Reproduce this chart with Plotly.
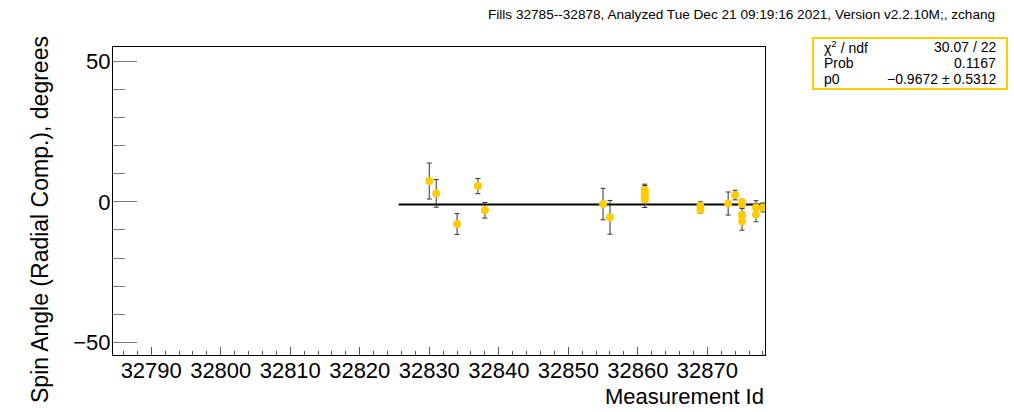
import plotly.graph_objects as go

# ---- data ----
meas_id = [32830, 32831, 32834, 32837, 32838, 32855, 32856,
           32861, 32861, 32861, 32861, 32861,
           32869, 32869, 32873, 32874,
           32875, 32875, 32875, 32875, 32877, 32877, 32878]
angle = [7.4, 3.0, -7.9, 5.6, -3.0, -0.8, -5.5,
         4.2, 3.4, 2.6, 1.6, 0.8,
         -1.5, -2.9, -0.6, 2.4,
         -0.2, -0.8, -4.7, -6.9, -2.0, -4.5, -2.0]
angle_err = [6.4, 4.9, 3.7, 2.7, 2.8, 5.6, 6.0,
             2.1, 2.4, 2.6, 2.4, 2.8,
             1.5, 1.2, 4.1, 1.7,
             1.1, 1.5, 2.5, 3.2, 2.4, 2.6, 1.6]

fit_p0 = -0.9672
fit_range = [32825.6, 32878.3]
x_range = [32784.5, 32878.3]
y_range = [-54.5, 55.1]

title_text = "Fills 32785--32878, Analyzed Tue Dec 21 09:19:16 2021, Version v2.2.10M;, zchang"
stats_labels = ["χ<sup>2</sup> / ndf", "Prob", "p0"]
stats_values = ["30.07 / 22", "0.1167", "−0.9672 ± 0.5312"]

# ---- layout geometry ----
W, H = 1014, 412
L, R, T, B = 113, 249, 47, 57
PW, PH = W - L - R, H - T - B
FONT = "Liberation Sans, Arial, Helvetica, sans-serif"
GOLD = "#ffcc00"


def px(x):
    return (x - L) / PW


def py(y):
    return 1 - (y - T) / PH


fig = go.Figure()

fig.add_trace(go.Scatter(
    x=fit_range, y=[fit_p0, fit_p0], mode="lines",
    line=dict(color="black", width=2), hoverinfo="skip", showlegend=False))

fig.add_trace(go.Scatter(
    x=meas_id, y=angle, mode="markers",
    marker=dict(color=GOLD, size=8, line=dict(width=0)),
    error_y=dict(type="data", array=angle_err, visible=True,
                 color="#333333", thickness=1, width=2.5),
    showlegend=False))

fig.update_layout(
    width=W, height=H,
    margin=dict(l=L, r=R, t=T, b=B, pad=0),
    paper_bgcolor="white", plot_bgcolor="white",
    font=dict(family=FONT, color="black"),
    showlegend=False,
)

fig.update_xaxes(
    range=x_range, showgrid=False, zeroline=False,
    showline=True, linecolor="black", linewidth=1, mirror=True,
    ticks="inside", ticklen=8, tickcolor="#555555", tickwidth=1,
    dtick=10, tick0=32790, tickformat="d",
    tickfont=dict(size=22, family=FONT), ticklabelstandoff=-4,
    minor=dict(ticks="inside", ticklen=4, dtick=2, tick0=32790, tickcolor="#555555"),
)
fig.update_yaxes(
    range=y_range, showgrid=False, zeroline=False,
    showline=True, linecolor="black", linewidth=1, mirror=True,
    ticks="inside", ticklen=24, tickcolor="#777777", tickwidth=1,
    dtick=50, tick0=0,
    tickfont=dict(size=22, family=FONT), ticklabelstandoff=-3,
    minor=dict(ticks="inside", ticklen=12, dtick=10, tick0=0, tickcolor="#777777"),
)

ann = []
# top-right title
ann.append(dict(text=title_text, xref="paper", yref="paper",
                x=px(997), y=py(15), xanchor="right", yanchor="middle",
                showarrow=False, font=dict(size=13.6, family=FONT, color="black")))
# y axis title
ann.append(dict(text="Spin Angle (Radial Comp.), degrees", xref="paper", yref="paper",
                x=px(40), y=py(220), xanchor="center", yanchor="middle", textangle=-90,
                showarrow=False, font=dict(size=23, family=FONT, color="black")))
# x axis title
ann.append(dict(text="Measurement Id", xref="paper", yref="paper",
                x=px(766), y=py(396), xanchor="right", yanchor="middle",
                showarrow=False, font=dict(size=22, family=FONT, color="black")))
# stats box
row_y = [47, 63, 79]
for lab, val, ry in zip(stats_labels, stats_values, row_y):
    ann.append(dict(text=lab, xref="paper", yref="paper", x=px(822), y=py(ry),
                    xanchor="left", yanchor="middle", showarrow=False,
                    font=dict(size=14, family=FONT, color="black")))
    ann.append(dict(text=val, xref="paper", yref="paper", x=px(998), y=py(ry),
                    xanchor="right", yanchor="middle", showarrow=False,
                    font=dict(size=14, family=FONT, color="black")))
fig.update_layout(annotations=ann)

fig.add_shape(type="rect", xref="paper", yref="paper",
              x0=px(813), x1=px(1007), y0=py(89), y1=py(38),
              line=dict(color=GOLD, width=2), fillcolor="white", layer="above")

fig.write_html("out.html", config={"displayModeBar": False},
               post_script="document.body.style.margin='0px';document.body.style.padding='0px';")
